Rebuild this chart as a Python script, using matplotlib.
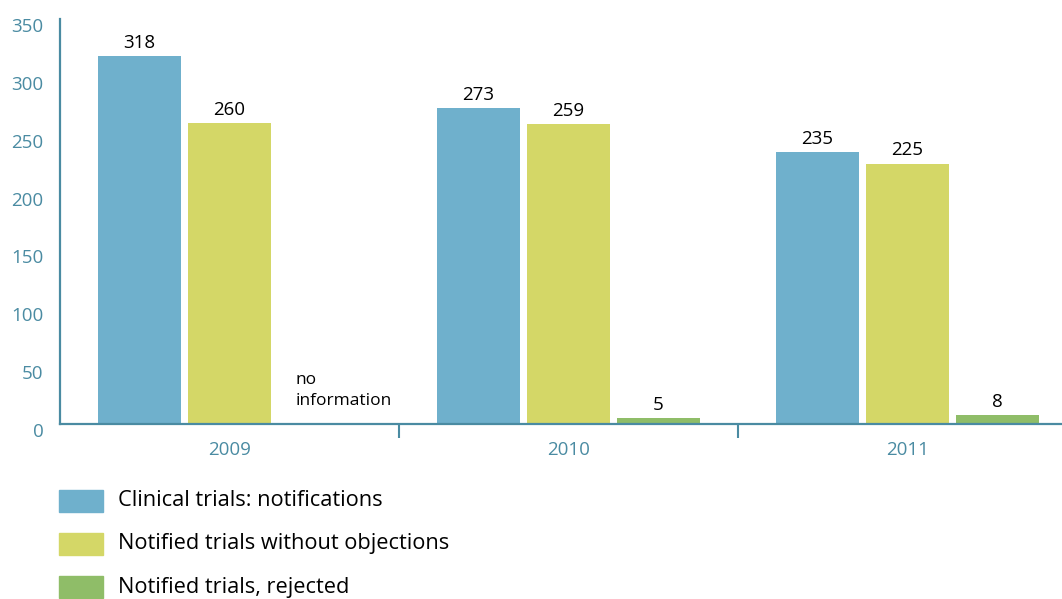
import matplotlib
matplotlib.use("Agg")
import matplotlib.pyplot as plt
import matplotlib.transforms as mtransforms
import numpy as np
from matplotlib.patches import Rectangle

plt.rcParams['font.family'] = ['Open Sans', 'DejaVu Sans']

# data
years = ['2009', '2010', '2011']
notifications = [318, 273, 235]
without_objections = [260, 259, 225]
rejected = [None, 5, 8]   # 2009: no information
series_names = ['Clinical trials: notifications',
                'Notified trials without objections',
                'Notified trials, rejected']

col_blue = '#6fb0cc'
col_yellow = '#d4d767'
col_green = '#8fbd68'
col_axis = '#4a8ba2'

fig = plt.figure(figsize=(10.62, 5.99), dpi=100)
ax = fig.add_axes([60/1062, 175/599, 1017/1062, 405/599])

x = np.arange(len(years)) + 0.5
w = 0.242
step = 0.2655

rej_vals = [v if v is not None else 0 for v in rejected]
b1 = ax.bar(x - step, notifications, w, color=col_blue)
b2 = ax.bar(x, without_objections, w, color=col_yellow)
b3 = ax.bar(x + step, rej_vals, w, color=col_green)

for bars, vals in [(b1, notifications), (b2, without_objections), (b3, rejected)]:
    for rect, v in zip(bars, vals):
        if v is None:
            ax.text(rect.get_x() + rect.get_width()/2 - 0.07, 13, 'no\ninformation',
                    ha='left', va='bottom', fontsize=12.5, color='#000000', linespacing=1.45)
            continue
        ax.annotate(str(v), (rect.get_x() + rect.get_width()/2, v),
                    xytext=(0, 3), textcoords='offset points',
                    ha='center', va='bottom', fontsize=13.5, color='#000000')

ax.set_xlim(0, 3)
ax.set_ylim(0, 350)
ax.set_yticks(range(0, 351, 50))

ax.set_xticks([1, 2])
ax.set_xticklabels([])
ax.set_xticks(x, minor=True)
ax.set_xticklabels(years, minor=True)
ax.tick_params(axis='x', which='major', length=10, width=1.5, color=col_axis)
ax.tick_params(axis='x', which='minor', length=0, pad=12, labelsize=13.5, labelcolor=col_axis)
ax.tick_params(axis='y', length=0, pad=12, labelsize=13.5, labelcolor=col_axis)

# y labels sit a little below their values in the original
shift = mtransforms.ScaledTranslation(0, -6/100, fig.dpi_scale_trans)
for lab in ax.get_yticklabels():
    lab.set_transform(lab.get_transform() + shift)

for s in ['top', 'right']:
    ax.spines[s].set_visible(False)
for s in ['left', 'bottom']:
    ax.spines[s].set_color(col_axis)
    ax.spines[s].set_linewidth(1.6)

# legend drawn by hand
for i, (name, c) in enumerate(zip(series_names, [col_blue, col_yellow, col_green])):
    yc = 1 - (501 + 43*i)/599
    fig.patches.append(Rectangle((59/1062, yc - 11/599), 44/1062, 22/599,
                                 transform=fig.transFigure, color=c))
    fig.text(118/1062, yc, name, ha='left', va='center', fontsize=15.7, color='#000000')

fig.savefig('out.png', dpi=100)
